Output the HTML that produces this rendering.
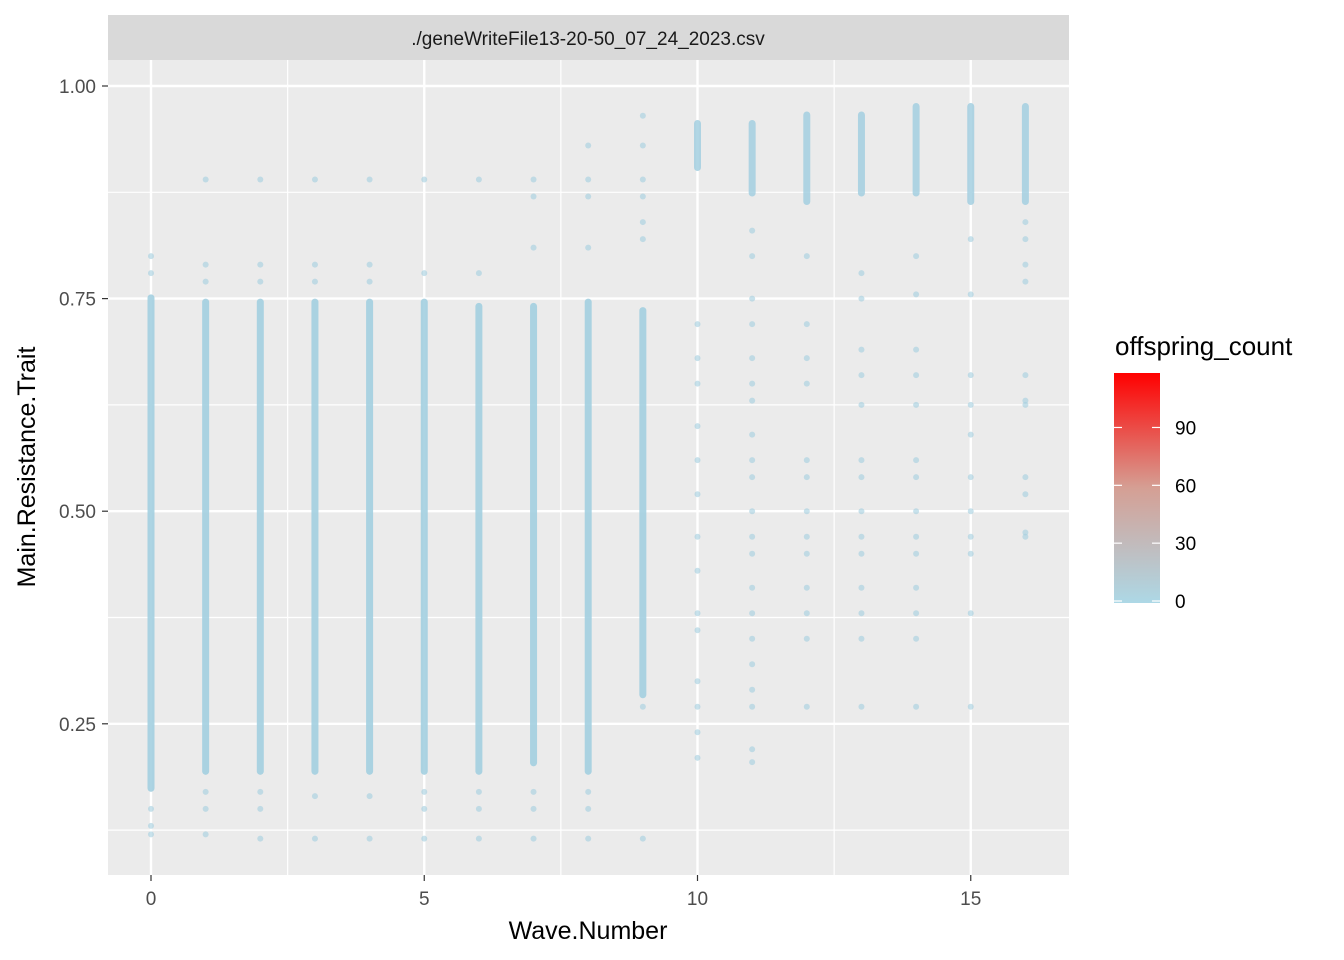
<!DOCTYPE html>
<html><head><meta charset="utf-8"><style>
body{margin:0;background:#fff;}
svg{display:block;font-family:"Liberation Sans",Arial,sans-serif;}
</style></head><body>
<svg id="chart" width="1344" height="960">
<defs><linearGradient id="cg" x1="0" y1="1" x2="0" y2="0">
<stop offset="0" stop-color="#add8e6"/><stop offset="0.5" stop-color="#d59f94"/><stop offset="1" stop-color="#ff0000"/></linearGradient></defs>
<rect x="108" y="15" width="961" height="45" fill="#d9d9d9"/>
<text x="588" y="45" font-size="19" text-anchor="middle" fill="#1a1a1a">./geneWriteFile13-20-50_07_24_2023.csv</text>
<rect x="108" y="60" width="961" height="815" fill="#ebebeb"/>
<g id="grid"></g><g id="marks"></g><g id="axes"></g>
<text x="1115" y="355" font-size="26" fill="#000">offspring_count</text>
<rect x="1114" y="373" width="46" height="230" fill="url(#cg)"/>
<g id="legend"></g>
<text x="588" y="939" font-size="25" text-anchor="middle" fill="#000">Wave.Number</text>
<text transform="translate(35,467) rotate(-90)" font-size="25" text-anchor="middle" fill="#000">Main.Resistance.Trait</text>
</svg>
<script>
const waves=[0,1,2,3,4,5,6,7,8,9,10,11,12,13,14,15,16];
const denseLo=[0.17,0.19,0.19,0.19,0.19,0.19,0.19,0.20,0.19,0.28,null,null,null,null,null,null,null];
const denseHi=[0.755,0.75,0.75,0.75,0.75,0.75,0.745,0.745,0.75,0.74,null,null,null,null,null,null,null];
const upperLo=[null,null,null,null,null,null,null,null,null,null,0.90,0.87,0.86,0.87,0.87,0.86,0.86];
const upperHi=[null,null,null,null,null,null,null,null,null,null,0.96,0.96,0.97,0.97,0.98,0.98,0.98];
const sparse=[
[0.80,0.78,0.15,0.13,0.12],
[0.89,0.79,0.77,0.17,0.15,0.12],
[0.89,0.79,0.77,0.17,0.15,0.115],
[0.89,0.79,0.77,0.165,0.115],
[0.89,0.79,0.77,0.165,0.115],
[0.89,0.78,0.17,0.15,0.115],
[0.89,0.78,0.17,0.15,0.115],
[0.89,0.87,0.81,0.17,0.15,0.115],
[0.93,0.89,0.87,0.81,0.17,0.15,0.115],
[0.965,0.93,0.89,0.87,0.84,0.82,0.27,0.115],
[0.72,0.68,0.65,0.60,0.56,0.52,0.47,0.43,0.38,0.36,0.30,0.27,0.24,0.21],
[0.83,0.80,0.75,0.72,0.68,0.65,0.63,0.59,0.56,0.54,0.50,0.47,0.45,0.41,0.38,0.35,0.32,0.29,0.27,0.22,0.205],
[0.80,0.72,0.68,0.65,0.56,0.54,0.50,0.47,0.45,0.41,0.38,0.35,0.27],
[0.78,0.75,0.69,0.66,0.625,0.56,0.54,0.50,0.47,0.45,0.41,0.38,0.35,0.27],
[0.80,0.755,0.69,0.66,0.625,0.56,0.54,0.50,0.47,0.45,0.41,0.38,0.35,0.27],
[0.82,0.755,0.66,0.625,0.59,0.54,0.50,0.47,0.45,0.38,0.27],
[0.84,0.82,0.79,0.77,0.66,0.63,0.625,0.54,0.52,0.475,0.47]];
const xTicks=[0,5,10,15];
const yTicks=[0.25,0.50,0.75,1.00];
const yTickLabels=["0.25","0.50","0.75","1.00"];
const legendTicks=[0,30,60,90];
const NS='http://www.w3.org/2000/svg';
const X=v=>151+v*54.65, Y=v=>86+(1-v)*850.4, L=v=>601-v*1.928;
function mk(t,a,p){const e=document.createElementNS(NS,t);for(const k in a)e.setAttribute(k,a[k]);document.getElementById(p).appendChild(e);return e;}
[2.5,7.5,12.5].forEach(v=>{const e=mk('line',{x1:X(v),x2:X(v),y1:60,y2:875,stroke:'#fff','stroke-width':1.2},'grid');
});
[0.125,0.375,0.625,0.875].forEach(v=>{const e=mk('line',{x1:108,x2:1069,y1:Y(v),y2:Y(v),stroke:'#fff','stroke-width':1.2},'grid');
});
xTicks.forEach(v=>{const e=mk('line',{x1:X(v),x2:X(v),y1:60,y2:875,stroke:'#fff','stroke-width':2.4},'grid');

const t=mk('line',{x1:X(v),x2:X(v),y1:875,y2:881,stroke:'#333','stroke-width':1.2},'axes');

const l=mk('text',{x:X(v),y:905,'font-size':19,'text-anchor':'middle',fill:'#4d4d4d'},'axes');l.textContent=v;
});
yTicks.forEach((v,i)=>{const e=mk('line',{x1:108,x2:1069,y1:Y(v),y2:Y(v),stroke:'#fff','stroke-width':2.4},'grid');

const t=mk('line',{x1:102,x2:108,y1:Y(v),y2:Y(v),stroke:'#333','stroke-width':1.2},'axes');

const l=mk('text',{x:96,y:Y(v)+7,'font-size':19,'text-anchor':'end',fill:'#4d4d4d'},'axes');l.textContent=yTickLabels[i];
});
const C='#a3cfe0';
waves.forEach((w,i)=>{
 if(denseLo[i]!=null){const r=mk('rect',{x:X(w)-3.5,y:Y(denseHi[i]),width:7,height:Y(denseLo[i])-Y(denseHi[i]),rx:3.5,fill:C,opacity:0.9},'marks');
  }
 if(upperLo[i]!=null){const r=mk('rect',{x:X(w)-3.5,y:Y(upperHi[i]),width:7,height:Y(upperLo[i])-Y(upperHi[i]),rx:3.5,fill:C,opacity:0.85},'marks');
  }
 sparse[i].forEach(v=>{const c=mk('circle',{cx:X(w),cy:Y(v),r:3,fill:C,opacity:0.6},'marks');
  });
});
legendTicks.forEach(v=>{[1114,1152].forEach(x0=>{const t=mk('line',{x1:x0,x2:x0+8,y1:L(v),y2:L(v),stroke:'#fff','stroke-width':1.2},'legend');
 });
 const l=mk('text',{x:1175,y:L(v)+7,'font-size':19,fill:'#000'},'legend');l.textContent=v;
 });
</script>
</body></html>
